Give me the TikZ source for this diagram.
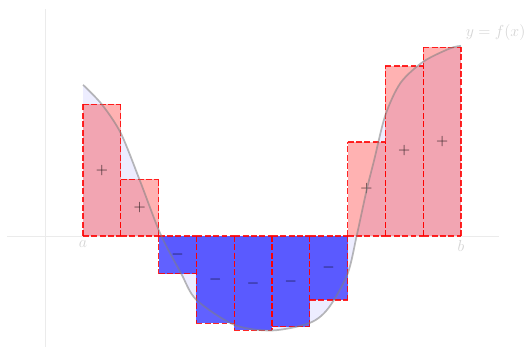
\documentclass[tikz,border=0pt]{standalone}
\tikzset{
  posbar/.style={fill=red,fill opacity=0.3},
  negbar/.style={fill=blue,fill opacity=0.62},
  edge/.style={draw=red,draw opacity=0.85,line width=1pt,dash pattern=on 4.5pt off 1.8pt},
  sgn/.style={text=black,text opacity=0.82,font=\large},
  faint/.style={text=black!17,font=\large},
  axisline/.style={draw=black!8,line width=0.6pt},
  curve/.style={draw=gray,draw opacity=0.55,line width=1.3pt}
}
% dashed outline of one bar, every side drawn away from the axis
\newcommand\baredge[3]{%
  \draw[edge] (#1,0) -- (#1,#3);
  \draw[edge] (#2,0) -- (#2,#3);
  \draw[edge] (#1,#3) -- (#2,#3);
  \draw[edge] (#1,0) -- (#2,0);
}
\begin{document}
\begin{tikzpicture}
\useasboundingbox (-2.196,-2.937) rectangle (11.72,6.243);

\draw[axisline] (-2,0) -- (11,0);
\draw[axisline] (-1,-3) -- (-1,6);

% area under the curve
\fill[blue!7] (0,0) -- plot[smooth] coordinates {(0,4.0) (0.5,3.48) (1,2.72) (1.5,1.48) (2.05,0.05) (2.6,-1.0) (3,-1.69) (4,-2.35) (5,-2.5) (6,-2.3) (6.5,-1.9) (7,-1.0) (7.25,0.05) (7.5,1.2) (7.7,2.0) (8,3.2) (8.4,4.05) (9,4.61) (9.7,4.96) (10,5.03)} -- (10,0) -- cycle;

%-------------------------------------
\fill[posbar] (0,0) rectangle (1,3.48);
\fill[posbar] (1,0) rectangle (2,1.5);
\fill[negbar] (2,0) rectangle (3,-1.0);
\fill[negbar] (3,0) rectangle (4,-2.31);
\fill[negbar] (4,0) rectangle (5,-2.5);
\fill[negbar] (5,0) rectangle (6,-2.4);
\fill[negbar] (6,0) rectangle (7,-1.69);
\fill[posbar] (7,0) rectangle (8,2.49);
\fill[posbar] (8,0) rectangle (9,4.5);
\fill[posbar] (9,0) rectangle (10,4.99);

\baredge{0}{1}{3.48}
\baredge{1}{2}{1.5}
\baredge{2}{3}{-1.0}
\baredge{3}{4}{-2.31}
\baredge{4}{5}{-2.5}
\baredge{5}{6}{-2.4}
\baredge{6}{7}{-1.69}
\baredge{7}{8}{2.49}
\baredge{8}{9}{4.5}
\baredge{9}{10}{4.99}

\node[sgn] (s1) at (0.5,1.74) {$+$};
\node[sgn] (s2) at (1.5,0.75) {$+$};
\node[sgn] (s3) at (2.5,-0.5) {$-$};
\node[sgn] (s4) at (3.5,-1.155) {$-$};
\node[sgn] (s5) at (4.5,-1.25) {$-$};
\node[sgn] (s6) at (5.5,-1.2) {$-$};
\node[sgn] (s7) at (6.5,-0.845) {$-$};
\node[sgn] (s8) at (7.5,1.245) {$+$};
\node[sgn] (s9) at (8.5,2.25) {$+$};
\node[sgn] (s10) at (9.5,2.5) {$+$};

%-------------------------------------
\draw[curve] plot[smooth] coordinates {(0,4.0) (0.5,3.48) (1,2.72) (1.5,1.48) (2.05,0.05) (2.6,-1.0) (3,-1.69) (4,-2.35) (5,-2.5) (6,-2.3) (6.5,-1.9) (7,-1.0) (7.25,0.05) (7.5,1.2) (7.7,2.0) (8,3.2) (8.4,4.05) (9,4.61) (9.7,4.96) (10,5.03)};

\node[faint,below] (la) at (0,0) {$a$};
\node[faint,below] (lb) at (10,0) {$b$};
\node[faint,anchor=west,inner sep=0pt,font=\fontsize{11.5}{13}\selectfont] (lf) at (10.12,5.37) {$y=f(x)$};
\end{tikzpicture}
\end{document}
